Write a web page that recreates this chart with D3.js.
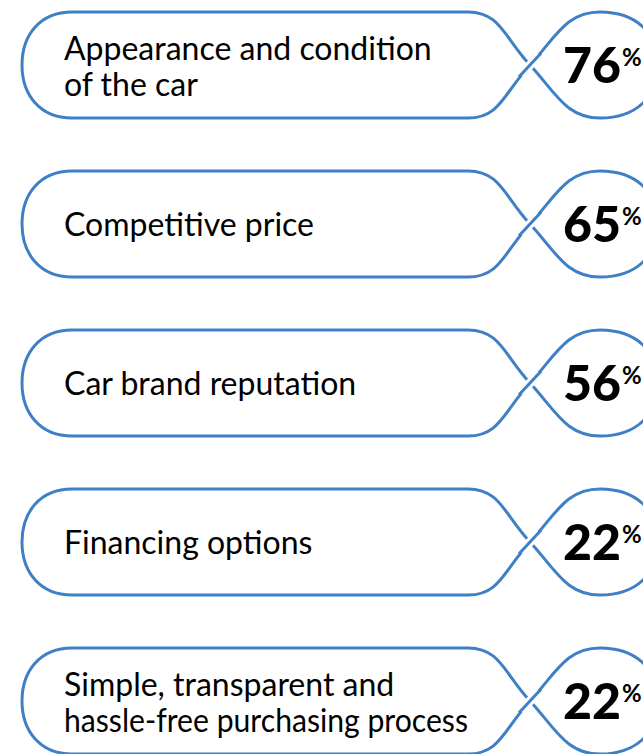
<!DOCTYPE html>
<html>
<head>
<meta charset="utf-8">
<script src="https://cdn.jsdelivr.net/npm/d3@7"></script>
<style>
  html, body { margin: 0; padding: 0; background: #fff; }
  svg { display: block; }
</style>
</head>
<body>
<div id="chart"></div>
<script>
// ---- data ----
const categories = [
  ["Appearance and condition", "of the car"],
  ["Competitive price"],
  ["Car brand reputation"],
  ["Financing options"],
  ["Simple, transparent and", "hassle-free purchasing process"]
];
const values = [76, 65, 56, 22, 22];

// ---- layout ----
const W = 643, H = 754;
const svg = d3.select("#chart").append("svg")
  .attr("width", W).attr("height", H);

const idx = d3.range(categories.length);
const y = d3.scalePoint().domain(idx).range([65, 65 + 159 * 4]);

const blue = "#3f7fc6";
const hh = 53;           // half height of the shape
const xl = 22, xr0 = 72; // left end
const xs = 468;          // end of straight part
const xc = 530;          // crossing
const xt = 600;          // loop top/bottom
const xr = 658;          // loop right extreme
const labelX = 64, labelMax = 404;

function shape(cy) {
  const T = cy - hh, B = cy + hh;
  const p = d3.path();
  p.moveTo(xr0, T);
  p.lineTo(xs, T);
  p.bezierCurveTo(xs + 32, T, xc - 26, cy - 28, xc, cy);
  p.bezierCurveTo(xc + 26, cy + 28, xt - 34, B, xt, B);
  p.bezierCurveTo(xt + 36, B, xr, cy + 32, xr, cy);
  p.bezierCurveTo(xr, cy - 32, xt + 36, T, xt, T);
  p.bezierCurveTo(xt - 34, T, xc + 26, cy - 28, xc, cy);
  p.bezierCurveTo(xc - 26, cy + 28, xs + 32, B, xs, B);
  p.lineTo(xr0, B);
  p.bezierCurveTo(xr0 - 32, B, xl, cy + 30, xl, cy);
  p.bezierCurveTo(xl, cy - 30, xr0 - 32, T, xr0, T);
  p.closePath();
  return p.toString();
}

const rows = svg.selectAll("g.row").data(idx).join("g")
  .attr("class", "row");

rows.append("path")
  .attr("d", d => shape(y(d)))
  .attr("fill", "none")
  .attr("stroke", blue)
  .attr("stroke-width", 3);

// front stroke at the crossing (gap in the back stroke)
rows.append("line")
  .attr("x1", xc - 9).attr("y1", d => y(d) + 9.7)
  .attr("x2", xc + 9).attr("y2", d => y(d) - 9.7)
  .attr("stroke", "#fff").attr("stroke-width", 9);
rows.append("line")
  .attr("x1", xc - 11).attr("y1", d => y(d) + 11.8)
  .attr("x2", xc + 11).attr("y2", d => y(d) - 11.8)
  .attr("stroke", blue).attr("stroke-width", 3);

// labels
rows.each(function(d) {
  const g = d3.select(this);
  const lines = categories[d];
  const cy = y(d);
  const base = lines.length === 1 ? [cy + 12] : [cy - 5, cy + 31];
  lines.forEach((s, i) => {
    const t = g.append("text")
      .attr("x", labelX).attr("y", base[i])
      .attr("font-family", "Lato, 'Noto Sans', sans-serif")
      .attr("font-size", 32)
      .attr("fill", "#000")
      .text(s);
    const len = t.node().getComputedTextLength();
    if (len > labelMax) {
      t.attr("textLength", labelMax).attr("lengthAdjust", "spacingAndGlyphs");
    }
  });
});

// values
const vt = rows.append("text")
  .attr("x", 563)
  .attr("y", d => y(d) + 18)
  .attr("font-family", "Lato, 'Noto Sans', sans-serif")
  .attr("font-weight", 900)
  .attr("font-size", 50)
  .attr("fill", "#000");
vt.append("tspan").text(d => values[d]);
vt.append("tspan").attr("font-size", 24).attr("font-weight", 700)
  .attr("dx", 1).attr("dy", -17).text("%");
</script>
</body>
</html>
